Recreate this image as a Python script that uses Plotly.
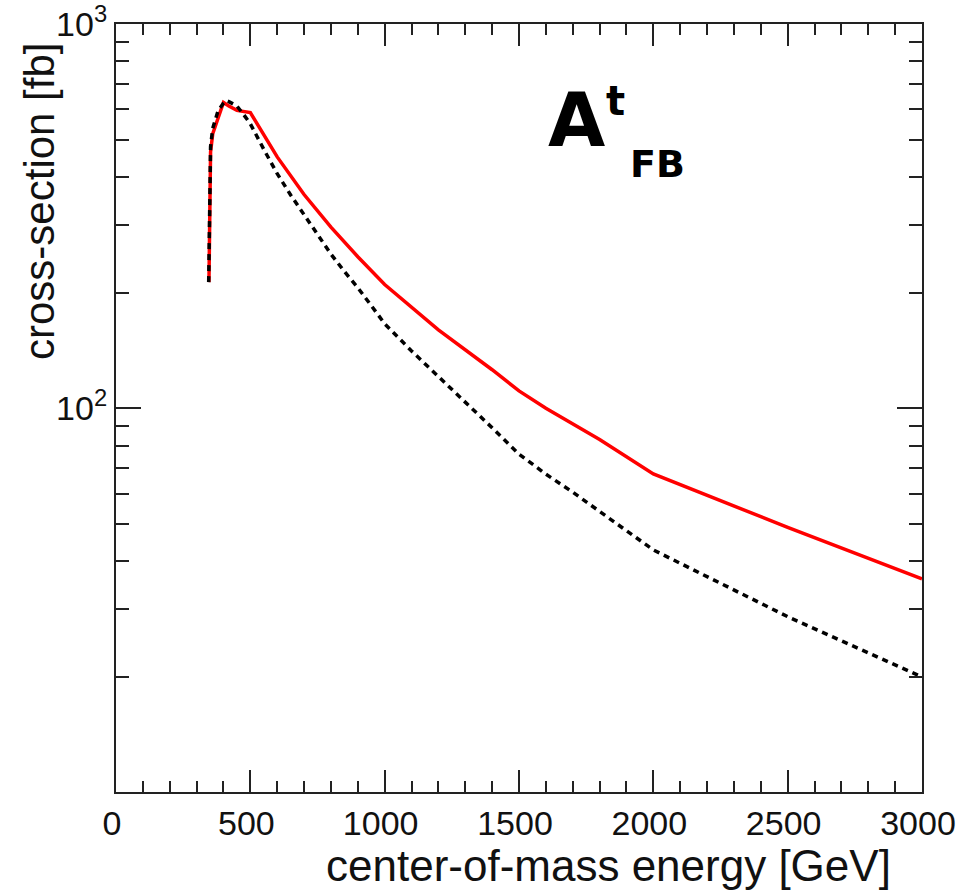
import plotly.graph_objects as go

# Cross-section vs centre-of-mass energy
red_energy = [346, 348, 352, 360, 380, 400, 420, 450, 500, 600, 700, 800, 900,
              1000, 1200, 1400, 1500, 1600, 1800, 2000, 2500, 3000]
red_xsec = [213, 300, 465, 518, 572, 625, 612, 596, 588, 451, 360, 296, 248,
            210, 160, 126, 111, 100, 83, 67.5, 49, 36]

blk_energy = [345, 347, 352, 360, 370, 380, 400, 410, 420, 450, 480, 500, 550,
              600, 650, 700, 750, 800, 850, 900, 950, 1000, 1100, 1200, 1300,
              1400, 1500, 1600, 1700, 1800, 1900, 2000, 2500, 3000]
blk_xsec = [213, 320, 480, 535, 570, 595, 622, 632, 628, 612, 575, 550, 472,
            408, 359, 319, 284, 252, 227, 206, 185, 166, 141, 121, 104,
            89, 76, 67.4, 60.5, 54, 48, 42.8, 28.7, 20.0]

x_major = [0, 500, 1000, 1500, 2000, 2500, 3000]
x_minor = [v for v in range(0, 3001, 100) if v % 500]
y_major = [100, 1000]
y_major_text = ["10<sup>2</sup>", "10<sup>3</sup>"]
y_minor = [20, 30, 40, 50, 60, 70, 80, 90, 200, 300, 400, 500, 600, 700, 800, 900]

W, H = 959, 892
L, R, T, B = 116, 37, 23.5, 99.5
pw, ph = W - L - R, H - T - B


def px(x):
    return (x - L) / pw


def py(y):
    return (H - B - y) / ph


fig = go.Figure()
fig.add_trace(go.Scatter(x=red_energy, y=red_xsec, mode="lines",
                         line=dict(color="#ff0000", width=3.5)))
fig.add_trace(go.Scatter(x=blk_energy, y=blk_xsec, mode="lines",
                         line=dict(color="#000000", width=3.5, dash="6px,5px")))

axis_font = dict(family="Liberation Sans, Arial, sans-serif", size=34, color="#111")
fig.update_layout(
    width=W, height=H,
    margin=dict(l=L, r=R, t=T, b=B, autoexpand=False),
    paper_bgcolor="white", plot_bgcolor="white",
    showlegend=False,
    xaxis=dict(range=[0, 3000], tickmode="array", tickvals=x_major,
               ticks="inside", ticklen=22, tickwidth=2, tickcolor="#222",
               showline=True, linewidth=2, linecolor="#222", mirror="ticks",
               showgrid=False, zeroline=False, tickfont=axis_font,
               ticklabeloverflow="allow", automargin=False, ticklabelshift=-4,
               minor=dict(tickmode="array", tickvals=x_minor, ticks="inside",
                          ticklen=11, tickwidth=2, tickcolor="#222", showgrid=False)),
    yaxis=dict(type="log", range=[1.0016, 3], tickmode="array",
               tickvals=y_major, ticktext=y_major_text,
               ticks="inside", ticklen=25, tickwidth=2, tickcolor="#222",
               showline=True, linewidth=2, linecolor="#222", mirror="ticks",
               showgrid=False, zeroline=False, tickfont=axis_font,
               ticklabeloverflow="allow", automargin=False,
               minor=dict(tickmode="array", tickvals=y_minor, ticks="inside",
                          ticklen=13, tickwidth=2, tickcolor="#222", showgrid=False)),
)

fig.add_annotation(text="center-of-mass energy [GeV]", xref="paper", yref="paper",
                   x=px(893), y=py(866), xanchor="right", yanchor="middle",
                   showarrow=False,
                   font=dict(family="Liberation Sans, Arial, sans-serif", size=44, color="#111"))
fig.add_annotation(text="cross-section [fb]", xref="paper", yref="paper",
                   x=px(40), y=py(41), xanchor="center", yanchor="top",
                   textangle=-90, showarrow=False,
                   font=dict(family="Liberation Sans, Arial, sans-serif", size=42, color="#111"))

label_font = "DejaVu Sans, sans-serif"
fig.add_annotation(text="<b>A</b>", xref="paper", yref="paper",
                   x=px(576), y=py(120), xanchor="center", yanchor="middle",
                   showarrow=False, font=dict(family=label_font, size=74, color="black"))
fig.add_annotation(text="<b>t</b>", xref="paper", yref="paper",
                   x=px(615), y=py(101), xanchor="center", yanchor="middle",
                   showarrow=False, font=dict(family=label_font, size=40, color="black"))
fig.add_annotation(text="<b>FB</b>", xref="paper", yref="paper",
                   x=px(657), y=py(164), xanchor="center", yanchor="middle",
                   showarrow=False, font=dict(family=label_font, size=38, color="black"))

fig.write_html("out.html")
